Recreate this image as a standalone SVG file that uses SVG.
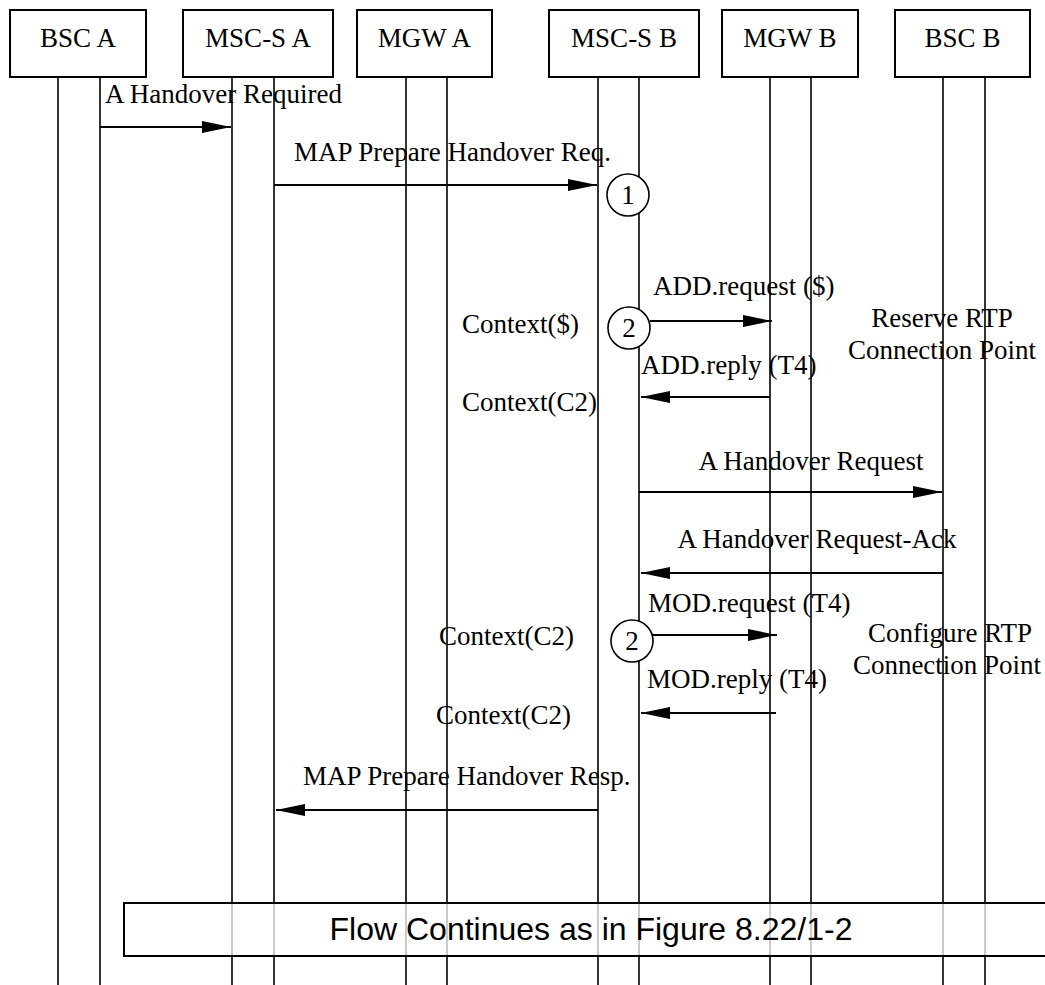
<svg xmlns="http://www.w3.org/2000/svg" width="1045" height="985" viewBox="0 0 1045 985">
<style>
.box{fill:#fff;stroke:#000;stroke-width:2}
.life{stroke:#000;stroke-width:1.6;fill:none}
.msg{stroke:#000;stroke-width:2;fill:none;marker-end:url(#ah)}
.t{font-family:"Liberation Serif","Times New Roman",serif;font-size:27px;fill:#000}
.h{font-family:"Liberation Serif","Times New Roman",serif;font-size:27px;fill:#000;text-anchor:middle}
.c{text-anchor:middle}
.circ{fill:#fff;stroke:#000;stroke-width:1.6}
.ct{font-family:"Liberation Serif","Times New Roman",serif;font-size:27px;fill:#000;text-anchor:middle}
</style>
<defs>
<marker id="ah" markerUnits="userSpaceOnUse" markerWidth="30" markerHeight="12" refX="29" refY="6" orient="auto">
<path d="M0,0 L29,6 L0,12 z" fill="#000"/>
</marker>
</defs>
<rect width="1045" height="985" fill="#fff"/>
<g id="lifelines">
<line class="life" x1="58" y1="77" x2="58" y2="985"/>
<line class="life" x1="100" y1="77" x2="100" y2="985"/>
<line class="life" x1="232" y1="77" x2="232" y2="985"/>
<line class="life" x1="274" y1="77" x2="274" y2="985"/>
<line class="life" x1="406" y1="77" x2="406" y2="985"/>
<line class="life" x1="447" y1="77" x2="447" y2="985"/>
<line class="life" x1="598" y1="77" x2="598" y2="985"/>
<line class="life" x1="639" y1="77" x2="639" y2="985"/>
<line class="life" x1="770" y1="77" x2="770" y2="985"/>
<line class="life" x1="811" y1="77" x2="811" y2="985"/>
<line class="life" x1="943" y1="77" x2="943" y2="985"/>
<line class="life" x1="985" y1="77" x2="985" y2="985"/>
</g>
<g id="bsc-a"><rect class="box" x="10" y="10" width="136" height="67"/><text class="h" x="78" y="47">BSC A</text></g>
<g id="msc-s-a"><rect class="box" x="183" y="10" width="150" height="67"/><text class="h" x="258" y="47">MSC-S A</text></g>
<g id="mgw-a"><rect class="box" x="357" y="10" width="135" height="67"/><text class="h" x="424.5" y="47">MGW A</text></g>
<g id="msc-s-b"><rect class="box" x="549" y="10" width="150" height="67"/><text class="h" x="624" y="47">MSC-S B</text></g>
<g id="mgw-b"><rect class="box" x="722" y="10" width="136" height="67"/><text class="h" x="790" y="47">MGW B</text></g>
<g id="bsc-b"><rect class="box" x="895" y="10" width="135" height="67"/><text class="h" x="962.5" y="47">BSC B</text></g>
<g id="connectors">
<line class="msg" x1="100" y1="127" x2="231" y2="127"/>
<line class="msg" x1="274" y1="185" x2="597" y2="185"/>
<line class="msg" x1="650" y1="321" x2="772" y2="321"/>
<line class="msg" x1="770" y1="397" x2="641" y2="397"/>
<line class="msg" x1="639" y1="492" x2="942" y2="492"/>
<line class="msg" x1="943" y1="573" x2="641" y2="573"/>
<line class="msg" x1="652" y1="635" x2="777" y2="635"/>
<line class="msg" x1="776" y1="713" x2="641" y2="713"/>
<line class="msg" x1="598" y1="810" x2="276" y2="810"/>
</g>
<g id="circle-1"><circle class="circ" cx="628" cy="195" r="21"/><text class="ct" x="628" y="204">1</text></g>
<g id="circle-2a"><circle class="circ" cx="629" cy="328" r="21"/><text class="ct" x="629" y="337">2</text></g>
<g id="circle-2b"><circle class="circ" cx="632" cy="641" r="21"/><text class="ct" x="632" y="650">2</text></g>
<g id="labels">
<text class="t" x="105" y="103">A Handover Required</text>
<text class="t" x="294" y="161">MAP Prepare Handover Req.</text>
<text class="t" x="653" y="295">ADD.request ($)</text>
<text class="t" x="462" y="333">Context($)</text>
<text class="t c" x="942" y="327">Reserve RTP</text>
<text class="t c" x="942" y="359">Connection Point</text>
<text class="t" x="641" y="374">ADD.reply (T4)</text>
<text class="t" x="462" y="411">Context(C2)</text>
<text class="t c" x="811" y="470">A Handover Request</text>
<text class="t c" x="817" y="548">A Handover Request-Ack</text>
<text class="t" x="648" y="612">MOD.request (T4)</text>
<text class="t" x="439" y="645">Context(C2)</text>
<text class="t c" x="950" y="642">Configure RTP</text>
<text class="t c" x="947" y="674">Connection Point</text>
<text class="t" x="647" y="688">MOD.reply (T4)</text>
<text class="t" x="436" y="724">Context(C2)</text>
<text class="t" x="303" y="785">MAP Prepare Handover Resp.</text>
</g>
<g id="flow-continues">
<rect x="124" y="903" width="940" height="53" fill="#fff" fill-opacity="0.75" stroke="#000" stroke-width="2"/>
<text x="591" y="940" font-family="Liberation Sans, Arial, sans-serif" font-size="32" text-anchor="middle" fill="#000">Flow Continues as in Figure 8.22/1-2</text>
</g>
</svg>
